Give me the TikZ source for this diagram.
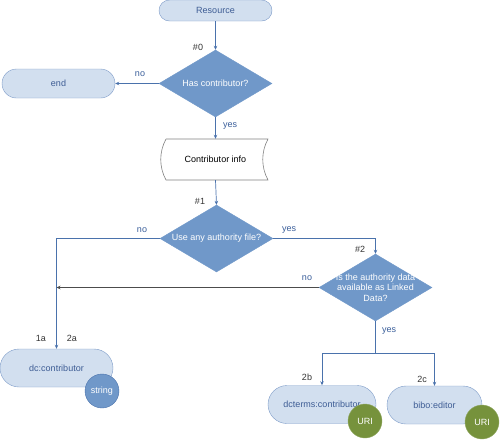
\documentclass[tikz,border=0pt]{standalone}
\usepackage{fontspec}
\setmainfont{Liberation Sans}
\usetikzlibrary{shapes.geometric,shapes.misc,arrows.meta}
\definecolor{boxfill}{HTML}{D2DFEF}
\definecolor{boxbord}{HTML}{7E9CC8}
\definecolor{txtblue}{HTML}{3D5C94}
\definecolor{diafill}{HTML}{7098C9}
\definecolor{linec}{HTML}{4A72AC}
\definecolor{urig}{HTML}{76923C}
\definecolor{labc}{HTML}{3A5E9A}
\begin{document}
\begin{tikzpicture}[x=1pt,y=-1pt,
  every node/.style={font=\fontsize{9}{10.5}\selectfont},
  term/.style={rounded rectangle, draw=boxbord, fill=boxfill, text=txtblue, inner sep=0pt, minimum width=113pt},
  dia/.style={diamond, fill=diafill, draw=diafill, inner sep=0pt, minimum width=113pt, minimum height=67pt},
  diatext/.style={text=white, align=center, inner sep=0pt},
  dot/.style={circle, inner sep=0pt, minimum size=34pt, text=white},
  arr/.style={draw=linec, line width=0.7pt, -{Stealth[length=4pt,width=3.5pt]}},
  ln/.style={draw=linec, line width=0.7pt},
  lab/.style={text=labc, inner sep=0pt},
  num/.style={text=black!80, inner sep=0pt}]
\useasboundingbox (0,0) rectangle (500,440);
% nodes
\node[term, minimum height=21pt] (res) at (215.5,10.5) {Resource};
\node[dia] (d0) at (215.5,83.5) {};
\node[diatext] (d0t) at (d0) {Has contributor?};
\node[term, minimum height=29pt] (endn) at (58.5,83.5) {end};
\node[inner sep=0pt, minimum width=102pt, minimum height=41pt] (info) at (215.5,159.5) {Contributor info};
\draw[gray, line width=0.6pt] (166,139) -- (268,139) .. controls (261,152) and (261,167) .. (268,180) -- (166,180) .. controls (159,167) and (159,152) .. (166,139);
\node[dia] (d1) at (216.5,238.5) {};
\node[diatext] (d1t) at (d1) {Use any authority file?};
\node[dia] (d2) at (375.5,287.5) {};
\node[diatext] (d2t) at (d2) {Is the authority data\\available as Linked\\Data?};
\node[term, minimum height=38pt] (dc) at (56.5,368) {dc:contributor};
\node[dot, fill=diafill, draw=linec] (str) at (102,391) {string};
\node[term, minimum height=38pt, minimum width=108pt] (dct) at (322,404.5) {dcterms:contributor};
\node[dot, fill=urig, draw=urig!80!white] (uri1) at (365,421) {URI};
\node[term, minimum height=38pt, minimum width=95pt] (bibo) at (434.5,405) {bibo:editor};
\node[dot, fill=urig, draw=urig!80!white] (uri2) at (482,422) {URI};
% connectors
\draw[arr] (res.south) -- (d0.north);
\draw[arr] (d0.west) -- (endn.east);
\draw[arr] (d0.south) -- (info.north);
\draw[arr] (info.south) -- (d1.north);
\draw[arr] (d1.west) -| (dc.north);
\draw[arr] (d1.east) -| (d2.north);
\coordinate (j) at (dc.north |- d2.west);
\draw[draw=black!70, line width=0.7pt, -{Stealth[length=4pt,width=3.5pt]}] (d2.west) -- (j);
\coordinate (br) at (375.5,353);
\draw[ln] (d2.south) -- (br);
\draw[arr] (br) -| (dct.north);
\draw[arr] (br) -| (bibo.north);
% labels
\node[num] (n0) at (198,47) {\#0};
\node[lab] (l0no) at (140,74) {no};
\node[lab] (l0yes) at (230,126) {yes};
\node[num] (n1) at (200,201) {\#1};
\node[lab] (l1no) at (142,230) {no};
\node[lab] (l1yes) at (289,230) {yes};
\node[num] (n2) at (360,249) {\#2};
\node[lab] (l2no) at (307,278) {no};
\node[lab] (l2yes) at (389,331) {yes};
\node[num] (a1) at (41,338) {1a};
\node[num] (a2) at (72,338) {2a};
\node[num] (b2) at (307,377) {2b};
\node[num] (c2) at (422,379) {2c};
\end{tikzpicture}
\end{document}
